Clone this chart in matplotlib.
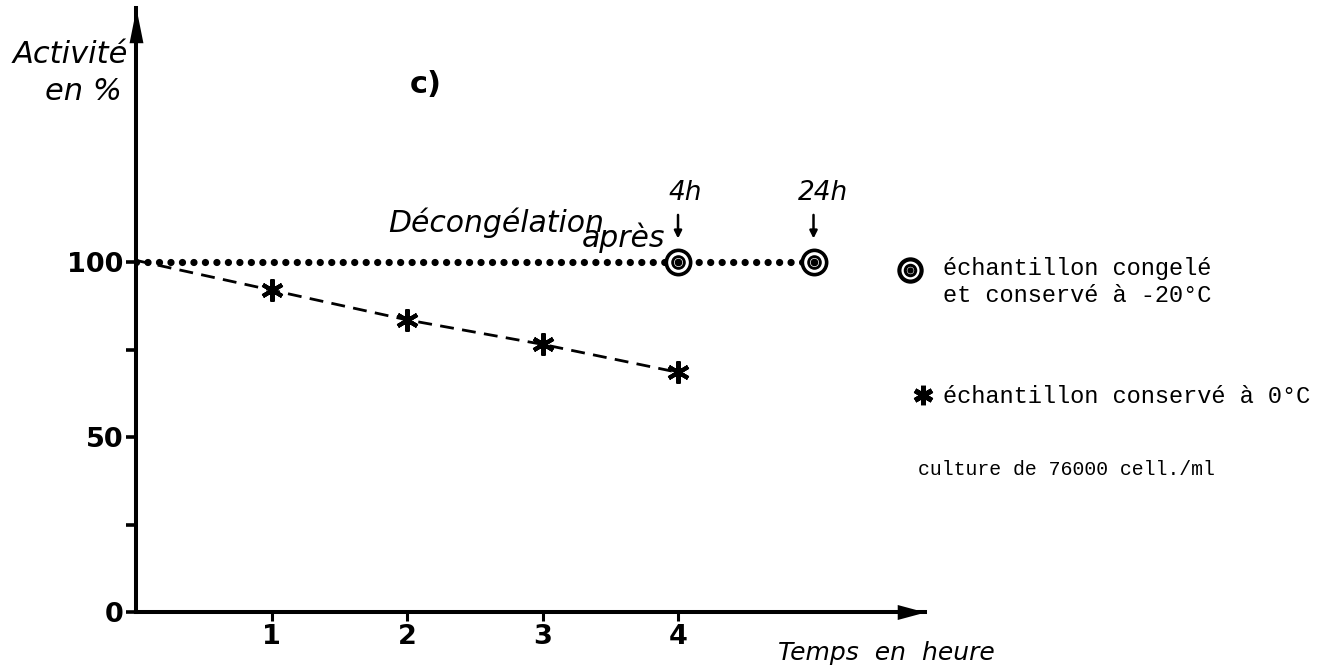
import numpy as np
import matplotlib.pyplot as plt

# donnees lues sur la figure c)
heures = [0, 1, 2, 3, 4]
activite_0C = [100.5, 92, 83.5, 76.5, 68.5]

decongel_x = [0, 4, 5]          # 4h et 24h
activite_congele = [100, 100, 100]
decongel_labels = ['4h', '24h']

yticks = [0, 50, 100]
yticks_minor = [25, 75]
xticks = [1, 2, 3, 4]

fig = plt.figure(figsize=(13.35, 6.71), dpi=100)
ax = fig.add_axes([0.1019, 0.0879, 0.591, 0.900])
ax.set_xlim(0, 5.823)
ax.set_ylim(0, 172.6)

for s in ['top', 'right']:
    ax.spines[s].set_visible(False)
for s in ['left', 'bottom']:
    ax.spines[s].set_linewidth(2.9)

# fleches des axes
fl_haut = [(0, 0), (-0.2, -1.0), (0.2, -1.0), (0, 0)]
fl_droite = [(0, 0), (-1.0, -0.27), (-1.0, 0.27), (0, 0)]
ax.plot(0, 1, marker=fl_haut, ms=50, color='k', mew=0,
        transform=ax.transAxes, clip_on=False)
ax.plot(1, 0, marker=fl_droite, ms=40, color='k', mew=0,
        transform=ax.transAxes, clip_on=False)

ax.set_yticks(yticks)
ax.set_yticks(yticks_minor, minor=True)
ax.set_xticks(xticks)
ax.tick_params(axis='y', which='both', direction='out', length=7, width=2.6,
               pad=2, labelsize=19.5)
ax.tick_params(axis='x', direction='out', length=6.5, width=2.2,
               pad=2, labelsize=19.5)
for lab in ax.get_xticklabels() + ax.get_yticklabels():
    lab.set_fontweight('bold')

# echantillon conserve a 0 C
ax.plot(heures, activite_0C, color='k', lw=2.0, dashes=(5.0, 3.0),
        marker=(6, 2, 0), ms=16, mew=3.0, markevery=[1, 2, 3, 4])

# echantillon congele
ax.plot(decongel_x, activite_congele, color='k', lw=5.2,
        linestyle=(0, (0.01, 1.58)), dash_capstyle='round')
ax.plot(decongel_x[1:], activite_congele[1:], 'o', ms=17.5, mfc='white',
        mec='k', mew=2.6, zorder=4)
ax.plot(decongel_x[1:], activite_congele[1:], 'o', ms=8.5, mfc='white',
        mec='k', mew=2.0, zorder=5)
ax.plot(decongel_x[1:], activite_congele[1:], 'o', ms=4.5, color='k', zorder=6)

for xv, lab, dx in zip(decongel_x[1:], decongel_labels, [5, 7]):
    ax.annotate('', xy=(xv, 100), xytext=(0, 34), textcoords='offset points',
                arrowprops=dict(arrowstyle='-|>', color='k', lw=1.8,
                                shrinkA=0, shrinkB=17, mutation_scale=11))
    ax.annotate(lab, xy=(xv, 100), xytext=(dx, 45), textcoords='offset points',
                ha='center', va='baseline', fontsize=19, style='italic')

ax.text(1.86, 108.6, 'Décongélation', fontsize=21.5, style='italic',
        ha='left', va='baseline')
ax.text(3.29, 104.3, 'après', fontsize=21.5, style='italic',
        ha='left', va='baseline')

ax.text(-0.059, 156.9, 'Activité', fontsize=22, style='italic',
        ha='right', va='baseline', clip_on=False)
ax.text(-0.103, 146.3, 'en %', fontsize=22, style='italic',
        ha='right', va='baseline', clip_on=False)
ax.text(2.02, 148.3, 'c)', fontsize=22, fontweight='bold',
        ha='left', va='baseline')
ax.text(4.74, -13.7, 'Temps  en  heure', fontsize=18, style='italic',
        ha='left', va='baseline', clip_on=False)

# legende
mono = 'Liberation Mono'
ax.plot(5.71, 97.7, 'o', ms=16, mfc='white', mec='k', mew=3.0, clip_on=False)
ax.plot(5.71, 97.7, 'o', ms=7.5, mfc='white', mec='k', mew=2.2, clip_on=False)
ax.plot(5.71, 97.7, 'o', ms=3.5, color='k', clip_on=False)
ax.text(5.955, 96.3, 'échantillon congelé', family=mono, fontsize=17,
        ha='left', va='baseline', clip_on=False)
ax.text(5.955, 88.6, 'et conservé à -20°C', family=mono, fontsize=17,
        ha='left', va='baseline', clip_on=False)
ax.plot(5.81, 62, marker=(6, 2, 0), ms=14, mew=3.6, color='k', clip_on=False)
ax.text(5.955, 59.7, 'échantillon conservé à 0°C', family=mono, fontsize=17,
        ha='left', va='baseline', clip_on=False)
ax.text(5.77, 39.1, 'culture de 76000 cell./ml', family=mono, fontsize=14.3,
        ha='left', va='baseline', clip_on=False)

fig.savefig('out.png', dpi=100)
